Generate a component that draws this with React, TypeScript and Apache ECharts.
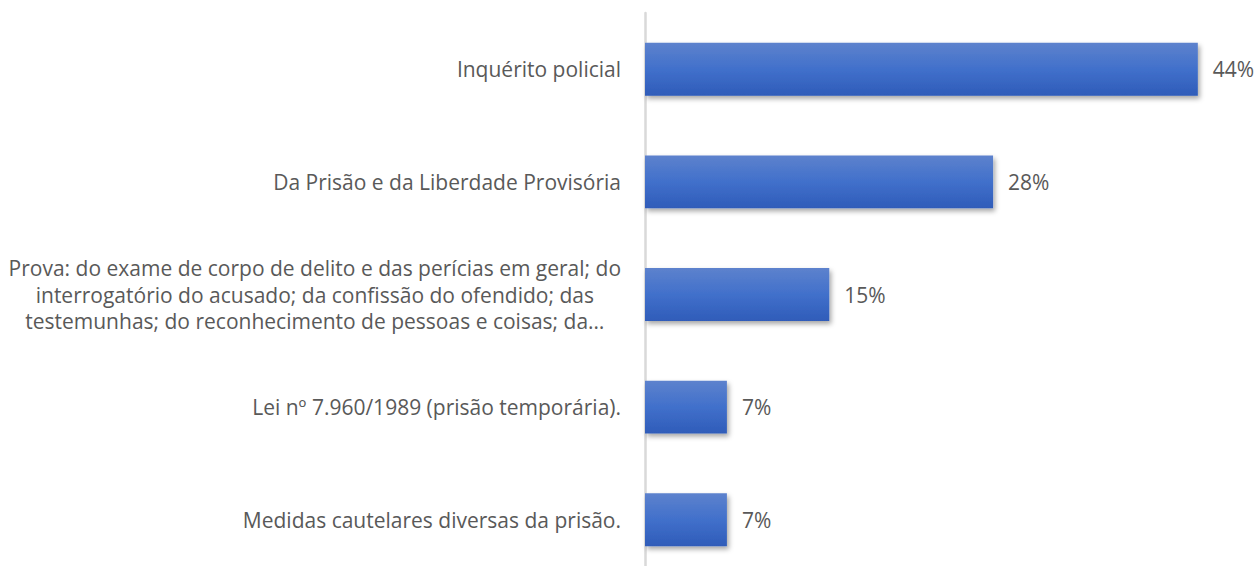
import React, { useEffect, useRef } from "react";
import * as echarts from "echarts";

const categories: string[] = [
  "Inquérito policial",
  "Da Prisão e da Liberdade Provisória",
  "Prova: do exame de corpo de delito e das perícias em geral; do\ninterrogatório do acusado; da confissão do ofendido; das\ntestemunhas; do reconhecimento de pessoas e coisas; da…",
  "Lei nº 7.960/1989 (prisão temporária).",
  "Medidas cautelares diversas da prisão.",
];
const counts: number[] = [27, 17, 9, 4, 4];
const total = 61;
const percents: number[] = counts.map((c) => (c / total) * 100);

export default function App() {
  const ref = useRef<HTMLDivElement>(null);
  useEffect(() => {
    if (!ref.current) return;
    const chart = echarts.init(ref.current, null, { renderer: "svg" });
    const font = "'Open Sans', sans-serif";
    chart.setOption({
      animation: false,
      grid: { left: 645, right: 0, top: 13, bottom: 0, containLabel: false },
      xAxis: {
        type: "value",
        min: 0,
        max: 49,
        show: false,
      },
      yAxis: {
        type: "category",
        inverse: true,
        data: categories,
        axisLine: { show: true, lineStyle: { color: "#d9d9d9", width: 2.5 } },
        axisTick: { show: false },
        axisLabel: {
          margin: 24,
          color: "#595959",
          fontFamily: font,
          fontSize: 21,
          lineHeight: 26.5,
          formatter: (v: string) =>
            v
              .split("\n")
              .map((l) => `{c|${l}}`)
              .join("\n"),
          rich: {
            c: {
              align: "center",
              color: "#595959",
              fontFamily: font,
              fontSize: 21,
              lineHeight: 26.5,
            },
          },
        },
      },
      series: [
        {
          type: "bar",
          data: percents,
          barCategoryGap: "53%",
          itemStyle: {
            color: new echarts.graphic.LinearGradient(0, 0, 0, 1, [
              { offset: 0, color: "#5d82cd" },
              { offset: 0.5, color: "#4170cb" },
              { offset: 1, color: "#2f5cb9" },
            ]),
            shadowColor: "rgba(0,0,0,0.35)",
            shadowBlur: 5,
            shadowOffsetX: 2,
            shadowOffsetY: 3,
          },
          label: {
            show: true,
            position: "right",
            distance: 15,
            color: "#595959",
            fontFamily: font,
            fontSize: 21,
            formatter: (p: any) => `${Math.round(p.value)}%`,
          },
        },
      ],
    });
    return () => chart.dispose();
  }, []);
  return (
    <div style={{ position: "fixed", left: 0, top: 0, width: 1257, height: 566, overflow: "hidden", background: "#fff" }}>
      <div ref={ref} style={{ width: 1257, height: 576 }} />
    </div>
  );
}
